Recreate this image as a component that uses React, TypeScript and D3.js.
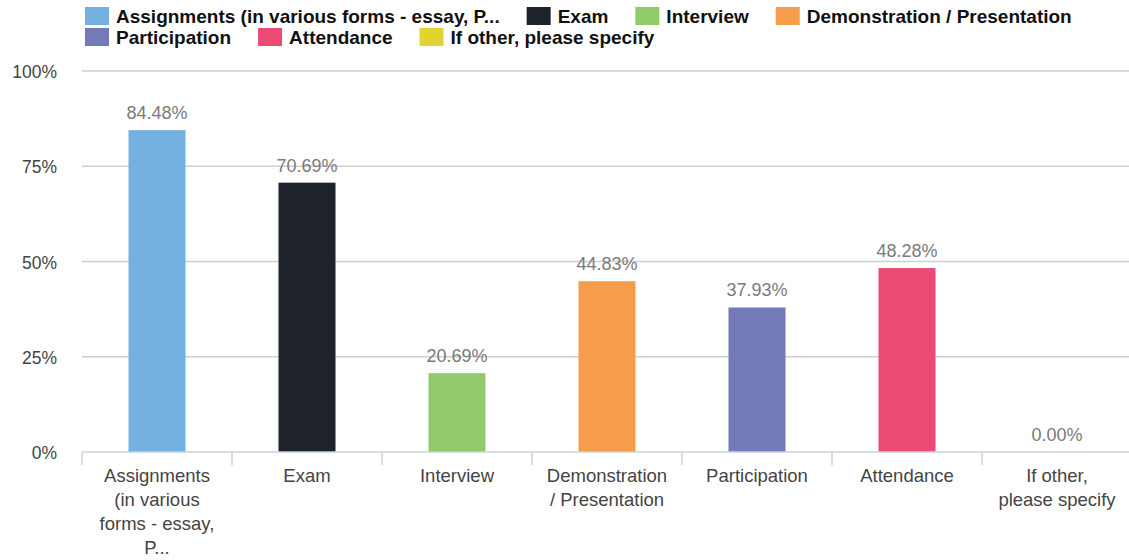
import React, { useEffect, useRef } from "react";
import * as d3 from "d3";

const categories = [
  "Assignments (in various forms - essay, P...",
  "Exam",
  "Interview",
  "Demonstration / Presentation",
  "Participation",
  "Attendance",
  "If other, please specify",
];
const categoryLines = [
  ["Assignments", "(in various", "forms - essay,", "P..."],
  ["Exam"],
  ["Interview"],
  ["Demonstration", "/ Presentation"],
  ["Participation"],
  ["Attendance"],
  ["If other,", "please specify"],
];
const values = [84.48, 70.69, 20.69, 44.83, 37.93, 48.28, 0.0];
const colors = ["#74b0e0", "#1e222b", "#92c96a", "#f59d4b", "#7479b8", "#ea4a74", "#e3d22f"];
const yTicks = [0, 25, 50, 75, 100];

const W = 1129;
const H = 560;
const FONT = "'Liberation Sans', Arial, Helvetica, sans-serif";

export default function App() {
  const ref = useRef<SVGSVGElement>(null);

  useEffect(() => {
    const svg = d3.select(ref.current);
    svg.selectAll("*").remove();

    const x = d3.scaleBand<string>().domain(categories).range([82, 1132]).paddingInner(0).paddingOuter(0);
    const y = d3.scaleLinear().domain([0, 100]).range([452, 71]);
    const barW = 57;

    const g = svg.append("g");
    g.selectAll("line.grid")
      .data(yTicks.filter((t) => t > 0))
      .join("line")
      .attr("x1", 82)
      .attr("x2", 1132)
      .attr("y1", (d) => y(d))
      .attr("y2", (d) => y(d))
      .attr("stroke", "#cfcfcf")
      .attr("stroke-width", 1.5);

    g.selectAll("text.ylab")
      .data(yTicks)
      .join("text")
      .attr("x", 57)
      .attr("y", (d) => y(d) + 7)
      .attr("text-anchor", "end")
      .attr("font-family", FONT)
      .attr("font-size", 17.5)
      .attr("fill", "#444")
      .text((d) => `${d}%`);

    g.selectAll("rect.bar")
      .data(values)
      .join("rect")
      .attr("x", (_, i) => (x(categories[i]) as number) + x.bandwidth() / 2 - barW / 2)
      .attr("width", barW)
      .attr("y", (d) => y(d))
      .attr("height", (d) => y(0) - y(d))
      .attr("fill", (_, i) => colors[i]);

    g.selectAll("text.val")
      .data(values)
      .join("text")
      .attr("x", (_, i) => (x(categories[i]) as number) + x.bandwidth() / 2)
      .attr("y", (d) => y(d) - 11)
      .attr("text-anchor", "middle")
      .attr("font-family", FONT)
      .attr("font-size", 18)
      .attr("fill", "#7a7a7a")
      .text((d) => `${d.toFixed(2)}%`);

    g.append("line")
      .attr("x1", 82)
      .attr("x2", 1132)
      .attr("y1", y(0))
      .attr("y2", y(0))
      .attr("stroke", "#c8d3da")
      .attr("stroke-width", 1.5);
    const bounds = categories.map((c) => x(c) as number).concat([1132]);
    g.selectAll("line.tick")
      .data(bounds)
      .join("line")
      .attr("x1", (d) => d)
      .attr("x2", (d) => d)
      .attr("y1", y(0))
      .attr("y2", y(0) + 13)
      .attr("stroke", "#c8d3da")
      .attr("stroke-width", 1.5);

    categories.forEach((c, i) => {
      const cx = (x(c) as number) + x.bandwidth() / 2;
      const t = g
        .append("text")
        .attr("text-anchor", "middle")
        .attr("font-family", FONT)
        .attr("font-size", 18.5)
        .attr("fill", "#444");
      categoryLines[i].forEach((ln, k) => {
        t.append("tspan").attr("x", cx).attr("y", 482 + k * 24).text(ln);
      });
    });

    const lg = svg.append("g");
    let lx = 85;
    let row = 0;
    const startX = 85;
    categories.forEach((c, i) => {
      const item = lg.append("g");
      item.append("rect").attr("width", 24).attr("height", 18).attr("fill", colors[i]);
      const tx = item
        .append("text")
        .attr("x", 31)
        .attr("y", 16)
        .attr("font-family", FONT)
        .attr("font-size", 19)
        .attr("font-weight", "bold")
        .attr("fill", "#111")
        .text(c);
      const tw = (tx.node() as SVGTextElement).getComputedTextLength();
      const itemW = 31 + tw;
      if (lx + itemW > W - 20 && lx > startX) {
        row++;
        lx = startX;
      }
      item.attr("transform", `translate(${lx},${7 + row * 21})`);
      lx += itemW + 27;
    });
  }, []);

  return (
    <svg
      ref={ref}
      width={W}
      height={H}
      style={{ position: "absolute", left: 0, top: 0, background: "#fff" }}
    />
  );
}
